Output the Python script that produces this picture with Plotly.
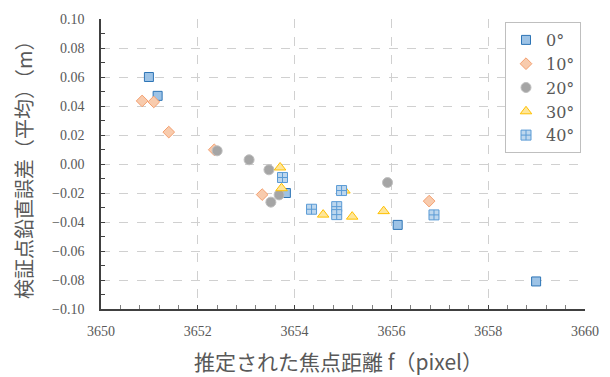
import plotly.graph_objects as go

series_names = ["0°", "10°", "20°", "30°", "40°"]

x_0 = [3650.99, 3651.17, 3653.82, 3656.13, 3658.99]
y_0 = [0.060, 0.047, -0.020, -0.042, -0.081]

x_10 = [3650.85, 3651.09, 3651.40, 3652.34, 3653.33, 3656.78]
y_10 = [0.0435, 0.0428, 0.0220, 0.0098, -0.0211, -0.0256]

x_20 = [3652.40, 3653.06, 3653.47, 3653.51, 3653.68, 3655.92]
y_20 = [0.0091, 0.0029, -0.0040, -0.0263, -0.0213, -0.0128]

x_30 = [3653.70, 3653.73, 3654.59, 3655.19, 3655.84, 3655.03]
y_30 = [-0.0024, -0.0167, -0.0349, -0.0363, -0.0325, -0.0183]

x_40 = [3653.75, 3654.97, 3654.35, 3654.87, 3654.87, 3656.88]
y_40 = [-0.0093, -0.0183, -0.0312, -0.0294, -0.0349, -0.0351]

x_title = "推定された焦点距離 f（pixel）"
y_title = "検証点鉛直誤差（平均）（m）"

styles = [
    dict(symbol="square", size=9, color="#9DC3E6", line=dict(color="#2E75B6", width=1)),
    dict(symbol="diamond", size=9, color="#F8CBAD", line=dict(color="#F4A070", width=1)),
    dict(symbol="circle", size=10, color="#A5A5A5", line=dict(color="#BFBFBF", width=1)),
    dict(symbol="triangle-up", size=10, color="#FFE699", line=dict(color="#FFC000", width=1)),
    dict(symbol="square-cross", size=10, color="#BDD7EE", line=dict(color="#5B9BD5", width=1)),
]

xs = [x_0, x_10, x_20, x_30, x_40]
ys = [y_0, y_10, y_20, y_30, y_40]

fig = go.Figure()
for name, xv, yv, st in zip(series_names, xs, ys, styles):
    fig.add_trace(go.Scatter(x=xv, y=yv, mode="markers", name=name, marker=st))

serif = "Liberation Serif"
serif2 = "DejaVu Serif"
cjk = "Noto Sans CJK JP"
gray = "#595959"

# page body has an 8px margin; size the figure so it fits the 610x377 window
W, H = 602, 369
L, R, T, B = 93, 25, 11, 68
pw = W - L - R
ph = H - T - B

fig.update_layout(
    template="none",
    width=W, height=H,
    margin=dict(l=L, r=R, t=T, b=B),
    paper_bgcolor="white", plot_bgcolor="white",
    font=dict(family=serif, color=gray, size=14),
    showlegend=True,
    legend=dict(
        x=1.0 - 4 / pw, y=1.0 - 3 / ph, xanchor="right", yanchor="top",
        bgcolor="white", bordercolor="#BFBFBF", borderwidth=1,
        font=dict(size=16, color=gray, family=serif2),
        itemwidth=30, entrywidth=56,
    ),
    xaxis=dict(
        range=[3650, 3660], dtick=2, tick0=3650,
        tickformat="d", automargin=False,
        showgrid=True, gridcolor="#D0D0D0", griddash="dash", gridwidth=1,
        showline=True, linecolor="#404040", linewidth=1.5,
        ticks="inside", ticklen=4, tickcolor="#404040",
        minor=dict(dtick=0.4, ticks="inside", ticklen=4, tickcolor="#808080", showgrid=False),
        tickfont=dict(size=14, color=gray, family=serif),
        ticklabelstandoff=8,
        zeroline=False,
    ),
    yaxis=dict(
        range=[-0.10, 0.10], dtick=0.02, tick0=0,
        tickformat=".2f", automargin=False,
        showgrid=True, gridcolor="#D0D0D0", griddash="dash", gridwidth=1,
        showline=True, linecolor="#404040", linewidth=1.5,
        ticks="inside", ticklen=4, tickcolor="#404040",
        minor=dict(dtick=0.01, ticks="inside", ticklen=4, tickcolor="#404040", showgrid=False),
        tickfont=dict(size=14, color=gray, family=serif),
        ticklabelstandoff=12,
        zeroline=False,
    ),
    annotations=[
        dict(text=x_title, xref="paper", yref="paper",
             x=(338 - 101) / pw, y=-(361 - 309) / ph,
             xanchor="center", yanchor="middle", showarrow=False,
             font=dict(size=21, color=gray, family=cjk)),
        dict(text=y_title, xref="paper", yref="paper",
             x=-(101 - 23) / pw, y=(309 - 165) / ph,
             xanchor="center", yanchor="middle", showarrow=False, textangle=-90,
             font=dict(size=20, color=gray, family=cjk)),
    ],
)

fig.write_html("out.html")
